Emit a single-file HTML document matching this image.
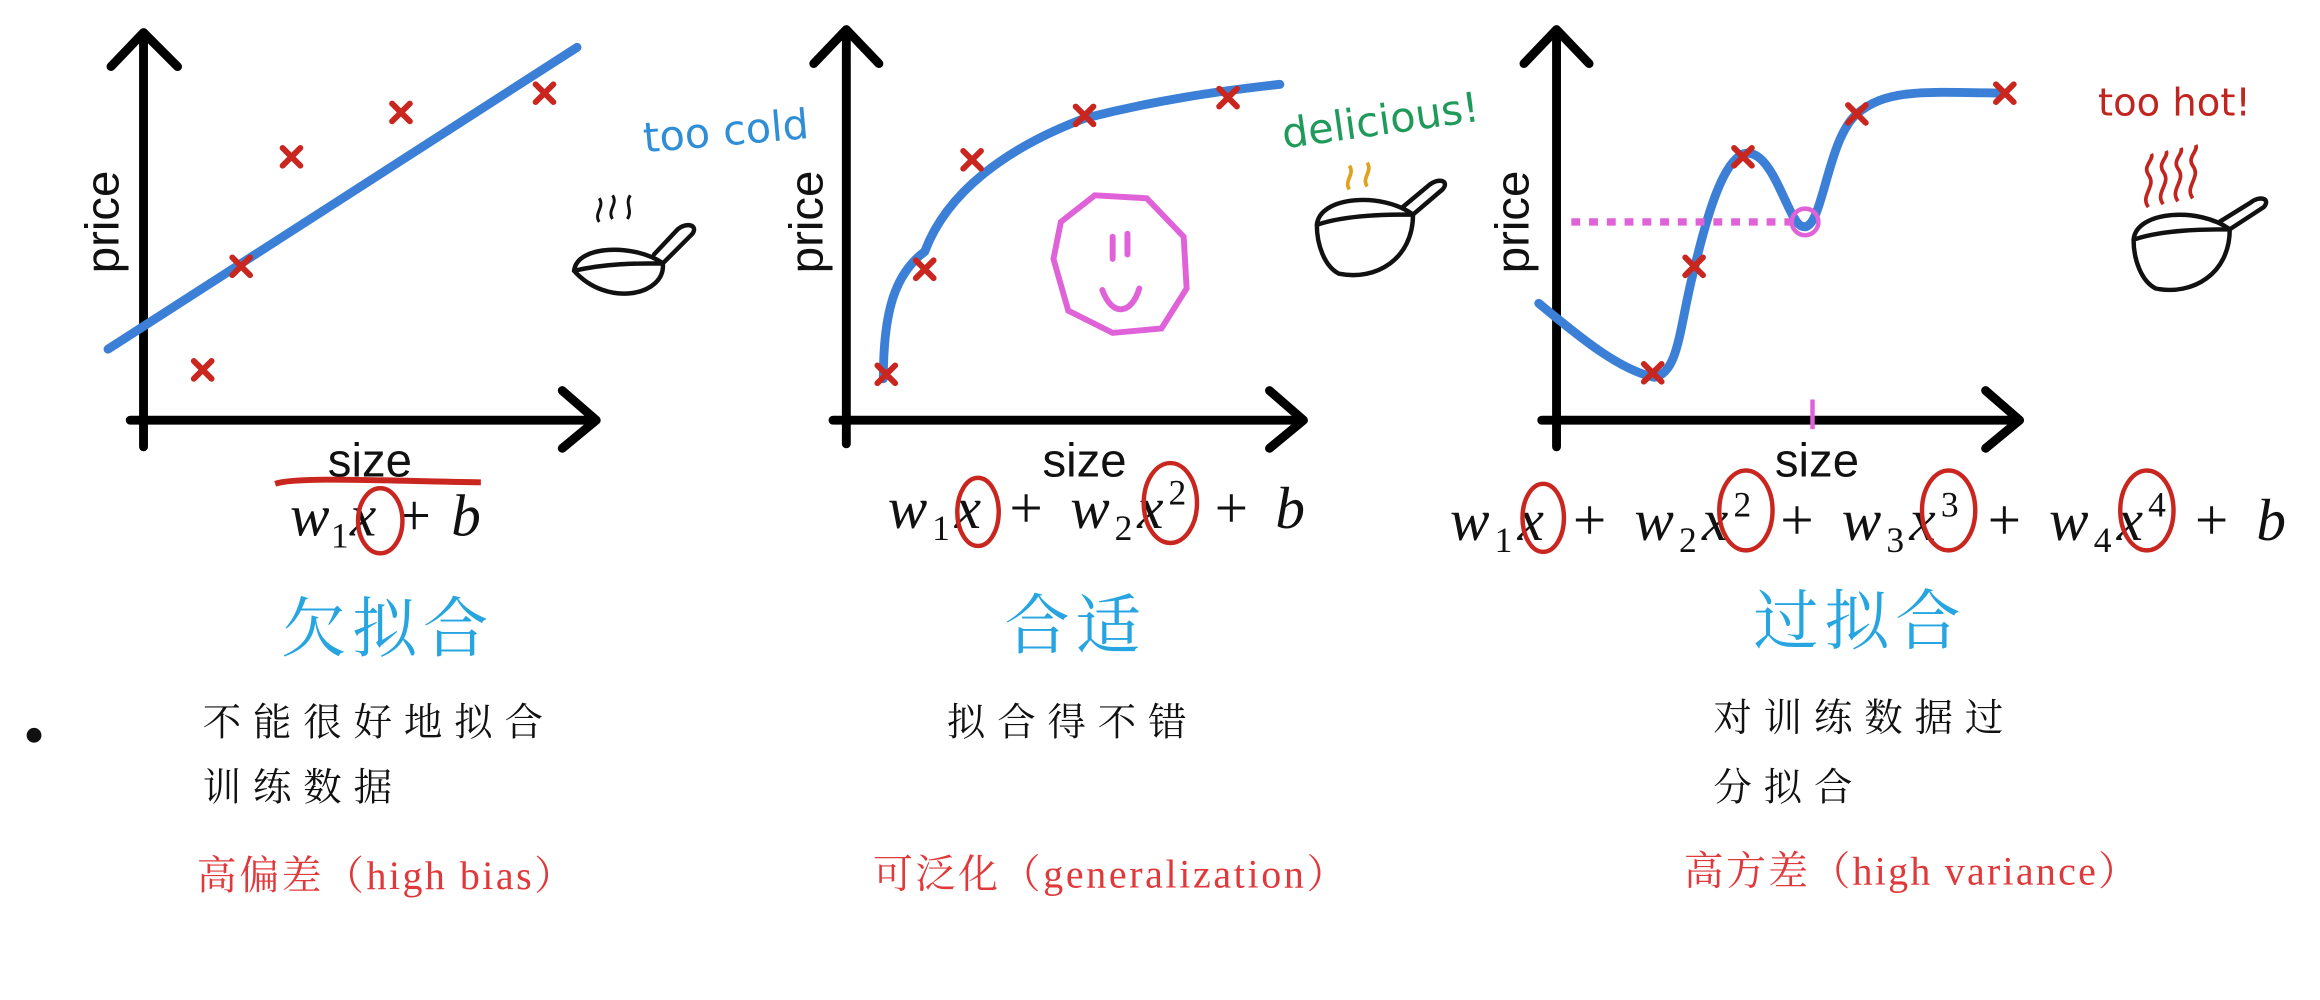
<!DOCTYPE html>
<html><head><meta charset="utf-8">
<style>html,body{margin:0;padding:0;background:#fff;}svg{display:block}</style></head>
<body>
<svg width="2320" height="1000" viewBox="0 0 1568 675.9" preserveAspectRatio="none" xmlns="http://www.w3.org/2000/svg">
<rect width="1568" height="676" fill="#fff"/>
<g stroke="#000" stroke-width="6" fill="none" stroke-linecap="round" stroke-linejoin="round">
  <path d="M97 302 V22 M75 45 L97 22 L120 45"/>
  <path d="M88 284 H402 M380 264 L403 284 L380 303"/>
  <path d="M572 300 V20 M550 43 L572 20 L594 43"/>
  <path d="M563 284 H880 M858 264 L881 284 L858 303"/>
  <path d="M1052 302 V20 M1030 43 L1052 20 L1074 43"/>
  <path d="M1042 284 H1364 M1342 264 L1365 284 L1342 303"/>
</g>
<g stroke="#3c7fd6" stroke-width="6" fill="none" stroke-linecap="round">
  <path d="M73 236 L390 32"/>
  <path d="M597 256 C597 210 605 185 625 170 C640 130 680 100 733 80 C780 68 820 62 865 57"/>
  <path d="M1040 205 C1070 230 1095 250 1118 255 C1135 252 1135 220 1145 182 C1155 140 1165 110 1178 104 C1198 98 1208 150 1218 153 C1232 158 1234 95 1255 77 C1275 60 1300 62 1355 63"/>
</g>
<g stroke="#c9261f" stroke-width="4" stroke-linecap="round">
  <path d="M131 244 l12 12 m0 -12 l-12 12"/>
  <path d="M157 174 l12 12 m0 -12 l-12 12"/>
  <path d="M191 100 l12 12 m0 -12 l-12 12"/>
  <path d="M265 70 l12 12 m0 -12 l-12 12"/>
  <path d="M362 57 l12 12 m0 -12 l-12 12"/>
  <path d="M593 247 l12 12 m0 -12 l-12 12"/>
  <path d="M619 176 l12 12 m0 -12 l-12 12"/>
  <path d="M651 102 l12 12 m0 -12 l-12 12"/>
  <path d="M727 72 l12 12 m0 -12 l-12 12"/>
  <path d="M824 60 l12 12 m0 -12 l-12 12"/>
  <path d="M1111 246 l12 12 m0 -12 l-12 12"/>
  <path d="M1139 174 l12 12 m0 -12 l-12 12"/>
  <path d="M1172 100 l12 12 m0 -12 l-12 12"/>
  <path d="M1249 71 l12 12 m0 -12 l-12 12"/>
  <path d="M1349 57 l12 12 m0 -12 l-12 12"/>
</g>
<g font-family="'Liberation Sans', 'DejaVu Sans', sans-serif" font-size="32" fill="#111">
  <text transform="translate(80 150) rotate(-90)" text-anchor="middle">price</text>
  <text transform="translate(556 150) rotate(-90)" text-anchor="middle">price</text>
  <text transform="translate(1033 150) rotate(-90)" text-anchor="middle">price</text>
  <text x="250" y="322" text-anchor="middle">size</text>
  <text x="733" y="322" text-anchor="middle">size</text>
  <text x="1228" y="322" text-anchor="middle">size</text>
</g>
<g font-family="'Liberation Serif', serif" font-style="italic" font-size="40" fill="#111">
  <text x="196" y="362" textLength="129" lengthAdjust="spacing">w<tspan font-size="24" dy="8" font-style="normal">1</tspan><tspan dy="-8">x + b</tspan></text>
  <text x="600" y="357" textLength="282" lengthAdjust="spacing">w<tspan font-size="24" dy="8" font-style="normal">1</tspan><tspan dy="-8">x + w</tspan><tspan font-size="24" dy="8" font-style="normal">2</tspan><tspan dy="-8">x</tspan><tspan font-size="24" dy="-16" font-style="normal">2</tspan><tspan dy="16"> + b</tspan></text>
  <text x="980" y="365" textLength="565" lengthAdjust="spacing">w<tspan font-size="24" dy="8" font-style="normal">1</tspan><tspan dy="-8">x + w</tspan><tspan font-size="24" dy="8" font-style="normal">2</tspan><tspan dy="-8">x</tspan><tspan font-size="24" dy="-16" font-style="normal">2</tspan><tspan dy="16"> + w</tspan><tspan font-size="24" dy="8" font-style="normal">3</tspan><tspan dy="-8">x</tspan><tspan font-size="24" dy="-16" font-style="normal">3</tspan><tspan dy="16"> + w</tspan><tspan font-size="24" dy="8" font-style="normal">4</tspan><tspan dy="-8">x</tspan><tspan font-size="24" dy="-16" font-style="normal">4</tspan><tspan dy="16"> + b</tspan></text>
</g>
<g stroke="#c9261f" stroke-width="3" fill="none">
  <path d="M186 327 C200 322 260 325 325 326" stroke-width="4"/>
  <ellipse cx="257" cy="352" rx="15" ry="22"/>
  <ellipse cx="661" cy="346" rx="14" ry="23"/>
  <ellipse cx="791" cy="340" rx="18" ry="27"/>
  <ellipse cx="1043" cy="350" rx="14" ry="23"/>
  <ellipse cx="1180" cy="345" rx="18" ry="27"/>
  <ellipse cx="1317" cy="345" rx="18" ry="27"/>
  <ellipse cx="1451" cy="345" rx="18" ry="27"/>
</g>
<path d="M1062 150 H1212" stroke="#e062d8" stroke-width="5" stroke-dasharray="6 6"/>
<circle cx="1220" cy="150" r="9" stroke="#e062d8" stroke-width="3" fill="none"/>
<path d="M1225 270 V290" stroke="#e062d8" stroke-width="3"/>
<g stroke="#e062d8" stroke-width="4" fill="none" stroke-linecap="round">
  <path d="M740 132 L775 134 L800 160 L802 195 L785 222 L752 225 L722 210 L712 175 L717 150 Z"/>
  <path d="M752 160 V175 M762 158 V172 M745 196 C752 215 765 212 770 195"/>
</g>
<text x="435" y="100" font-family="'DejaVu Sans', sans-serif" font-size="28" fill="#2f8ed6" transform="rotate(-5 470 95)">too cold</text>
<text x="865" y="90" font-family="'DejaVu Sans', sans-serif" font-size="28" fill="#1f9a5a" transform="rotate(-8 940 75)">delicious!</text>
<text x="1418" y="78" font-family="'DejaVu Sans', sans-serif" font-size="26" fill="#c0261f">too hot!</text>
<g stroke="#111" stroke-width="3" fill="none" stroke-linecap="round">
  <path d="M388 183 C390 165 430 165 448 178 C450 200 410 208 388 183 Z M388 183 C410 178 430 178 448 178 M448 178 L468 158 C472 152 464 150 458 155 L442 172"/>
  <path d="M890 152 C892 132 935 130 955 145 C955 175 930 190 905 185 C895 180 890 165 890 152 Z M890 152 C910 145 940 145 955 145 M955 145 L975 128 C980 122 972 120 966 125 L948 140"/>
  <path d="M1442 162 C1444 142 1487 140 1507 155 C1507 185 1482 200 1457 195 C1447 190 1442 175 1442 162 Z M1442 162 C1462 155 1492 155 1507 155 M1507 155 L1530 140 C1535 134 1527 132 1521 137 L1500 150"/>
</g>
<g stroke="#111" stroke-width="2" fill="none"><path d="M405 150 c-4 -6 4 -10 0 -16 M414 148 c-4 -6 4 -10 0 -16 M424 148 c4 -6 -2 -10 2 -16"/></g>
<g stroke="#e0a020" stroke-width="2.5" fill="none"><path d="M912 128 c-4 -6 4 -10 0 -16 M924 126 c-4 -6 4 -10 0 -16"/></g>
<g stroke="#c0261f" stroke-width="2.5" fill="none"><path d="M1452 140 c-6 -8 6 -14 0 -22 c-4 -6 4 -10 2 -14 M1462 138 c-6 -8 6 -14 0 -22 c-4 -6 4 -10 2 -14 M1472 136 c-6 -8 6 -14 0 -22 c-4 -6 4 -10 2 -14 M1482 134 c-6 -8 6 -14 0 -22 c-4 -6 4 -10 2 -14"/></g>
<g font-family="'Liberation Serif', 'Noto Serif CJK SC', serif" font-size="44" fill="#27a5e0" text-anchor="middle" letter-spacing="4">
  <text x="262" y="440">欠拟合</text>
  <text x="727" y="438">合适</text>
  <text x="1257" y="435">过拟合</text>
</g>
<g font-family="'Liberation Serif', 'Noto Serif CJK SC', serif" font-size="26" fill="#111" letter-spacing="8">
  <text x="137" y="497">不能很好地拟合</text>
  <text x="137" y="541">训练数据</text>
  <text x="640" y="497">拟合得不错</text>
  <text x="1158" y="494">对训练数据过</text>
  <text x="1158" y="541">分拟合</text>
</g>
<g font-family="'Liberation Serif', 'Noto Serif CJK SC', serif" font-size="27" fill="#e0393b">
  <text x="133" y="601" textLength="255" lengthAdjust="spacing">高偏差（high bias）</text>
  <text x="590" y="600" textLength="320" lengthAdjust="spacing">可泛化（generalization）</text>
  <text x="1138" y="598" textLength="307" lengthAdjust="spacing">高方差（high variance）</text>
</g>
<circle cx="23" cy="497" r="5" fill="#111"/>
</svg>
</body></html>
